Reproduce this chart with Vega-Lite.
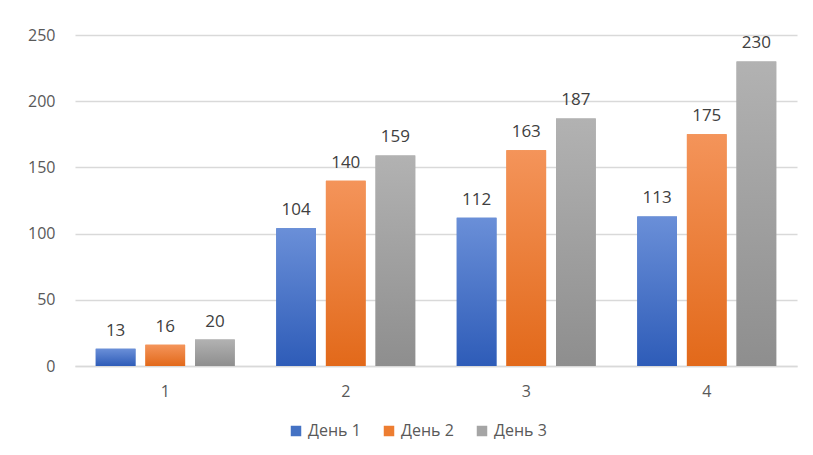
{
  "$schema": "https://vega.github.io/schema/vega-lite/v6.json",
  "width": 722,
  "height": 331,
  "autosize": {"type": "none"},
  "padding": {"left": 75, "top": 35, "right": 16, "bottom": 89},
  "background": "white",
  "config": {
    "view": {"stroke": null},
    "font": "Open Sans"
  },
  "data": {
    "values": [
      {"group": "1", "series": "День 1", "value": 13},
      {"group": "1", "series": "День 2", "value": 16},
      {"group": "1", "series": "День 3", "value": 20},
      {"group": "2", "series": "День 1", "value": 104},
      {"group": "2", "series": "День 2", "value": 140},
      {"group": "2", "series": "День 3", "value": 159},
      {"group": "3", "series": "День 1", "value": 112},
      {"group": "3", "series": "День 2", "value": 163},
      {"group": "3", "series": "День 3", "value": 187},
      {"group": "4", "series": "День 1", "value": 113},
      {"group": "4", "series": "День 2", "value": 175},
      {"group": "4", "series": "День 3", "value": 230}
    ]
  },
  "encoding": {
    "x": {
      "field": "group", "type": "nominal",
      "scale": {"paddingInner": 0.23, "paddingOuter": 0.115},
      "axis": {
        "title": null, "labelAngle": 0, "ticks": false,
        "domainColor": "#d9d9d9", "domainWidth": 1.5,
        "labelFontSize": 16, "labelColor": "#595959", "labelPadding": 17
      }
    },
    "xOffset": {"field": "series", "type": "nominal", "scale": {"domain": ["День 1", "День 2", "День 3"], "paddingInner": 0.2}},
    "y": {
      "field": "value", "type": "quantitative",
      "scale": {"domain": [0, 250], "nice": false},
      "axis": {
        "title": null, "values": [0, 50, 100, 150, 200, 250],
        "domain": false, "ticks": false, "gridColor": "#d9d9d9", "gridWidth": 1.5,
        "labelFontSize": 16, "labelColor": "#595959", "labelPadding": 20
      }
    }
  },
  "layer": [
    {
      "mark": {"type": "bar"},
      "encoding": {
        "color": {
          "field": "series", "type": "nominal",
          "scale": {
            "domain": ["День 1", "День 2", "День 3"],
            "range": ["#4472c4", "#ed7d31", "#a5a5a5"]
          },
          "legend": {
            "title": null, "orient": "none", "legendX": 213, "legendY": 388,
            "direction": "horizontal",
            "symbolType": "square", "symbolSize": 110, "symbolStrokeWidth": 0,
            "labelFontSize": 16, "labelColor": "#595959", "columnPadding": 20, "labelOffset": 4
          }
        }
      }
    },
    {
      "transform": [{"filter": "datum.series === 'День 1'"}],
      "mark": {"type": "bar", "color": {"gradient": "linear", "x1": 0, "y1": 0, "x2": 0, "y2": 1, "stops": [{"offset": 0, "color": "#6a8fd8"}, {"offset": 1, "color": "#2e5cb8"}]}},
      "encoding": {}
    },
    {
      "transform": [{"filter": "datum.series === 'День 2'"}],
      "mark": {"type": "bar", "color": {"gradient": "linear", "x1": 0, "y1": 0, "x2": 0, "y2": 1, "stops": [{"offset": 0, "color": "#f4945a"}, {"offset": 1, "color": "#e2691a"}]}},
      "encoding": {}
    },
    {
      "transform": [{"filter": "datum.series === 'День 3'"}],
      "mark": {"type": "bar", "color": {"gradient": "linear", "x1": 0, "y1": 0, "x2": 0, "y2": 1, "stops": [{"offset": 0, "color": "#b2b2b2"}, {"offset": 1, "color": "#8e8e8e"}]}},
      "encoding": {}
    },
    {
      "mark": {"type": "text", "baseline": "bottom", "dy": -9, "fontSize": 17, "color": "#404040"},
      "encoding": {
        "text": {"field": "value", "type": "quantitative"}
      }
    }
  ]
}
